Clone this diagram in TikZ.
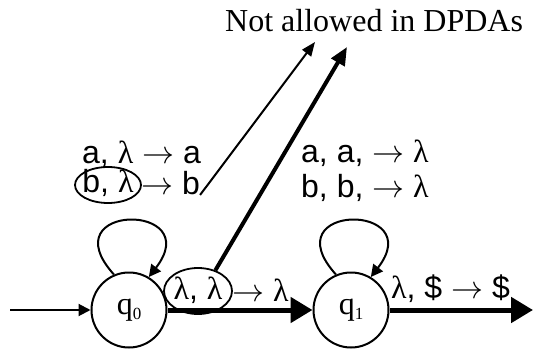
\RequirePackage{fix-cm}
\documentclass[tikz,border=0pt]{standalone}
\usepackage{fontspec}
\setmainfont{Liberation Sans}
\newfontfamily\serifface{Liberation Serif}
\usetikzlibrary{arrows.meta,shapes.geometric}
\newcommand\lam{{\serifface λ}}
\newcommand\qsub[1]{q\raisebox{-5pt}{\fontsize{17}{17}\selectfont #1}}
\begin{document}
\begin{tikzpicture}[x=1pt,y=-1pt,
  state/.style={circle,draw,line width=2pt,minimum size=75pt,inner sep=0pt,font=\serifface\fontsize{32}{32}\selectfont},
  lbl/.style={inner sep=0pt,font=\fontsize{32}{32}\selectfont},
  ring/.style={ellipse,draw,line width=1.8pt,inner sep=0pt},
  thinarrow/.style={line width=2pt,-{Triangle[length=12pt,width=12pt]}},
  heavyarrow/.style={line width=5pt,-{Triangle[length=22pt,width=25pt]}},
 ]
\useasboundingbox (0,0) rectangle (533,353);

% states
\node[state] (q0) at (129,310) {\qsub{0}};
\node[state] (q1) at (351,310) {\qsub{1}};

% title
\node[inner sep=0pt,anchor=base west,font=\serifface\fontsize{32}{32}\selectfont] (title) at (225,32) {Not allowed in DPDAs};

% labels above q0
\node[lbl,anchor=west] (la) at (82,154) {a, \lam{} $\rightarrow$ a};
\node[lbl] (lbl1) at (108,183) {b, \lam};
\node[ring,minimum width=66pt,minimum height=36pt] (eb) at (108,185) {};
\node[lbl,anchor=west] (lbl2) at (141,183) {$\rightarrow$ b};

% labels above q1
\node[lbl,anchor=west] (ra) at (301,153) {a, a, $\rightarrow$ \lam};
\node[lbl,anchor=west] (rb) at (301,188) {b, b, $\rightarrow$ \lam};

% edge labels
\node[lbl] (e1t) at (198,290) {\lam, \lam};
\node[ring,minimum width=68pt,minimum height=46pt] (e1) at (198,291) {};
\node[lbl,anchor=west] (e1r) at (232,290) {$\rightarrow$ \lam};
\node[lbl,anchor=west] (e2) at (391,289) {\lam, \$ $\rightarrow$ \$};

% connectors
\coordinate (init) at (10,310);
\coordinate (exit) at (533,310);
\coordinate (tip1) at (315,42);
\coordinate (tip2) at (347,47);

\draw[thinarrow] (init) -- (q0);
\draw[heavyarrow] (q0) -- (q1);
\draw[heavyarrow] (q1) -- (exit);
\draw[thinarrow] (q0.113) .. controls +(-65,-72) and +(58,-75) .. (q0.59);
\draw[thinarrow] (q1.113) .. controls +(-65,-72) and +(58,-75) .. (q1.59);
\draw[line width=2pt,-{Triangle[length=14pt,width=11pt]}] (lbl2.south east) -- (tip1);
\draw[line width=4pt,-{Triangle[length=18pt,width=15pt]}] (e1.50) -- (tip2);
\end{tikzpicture}
\end{document}
